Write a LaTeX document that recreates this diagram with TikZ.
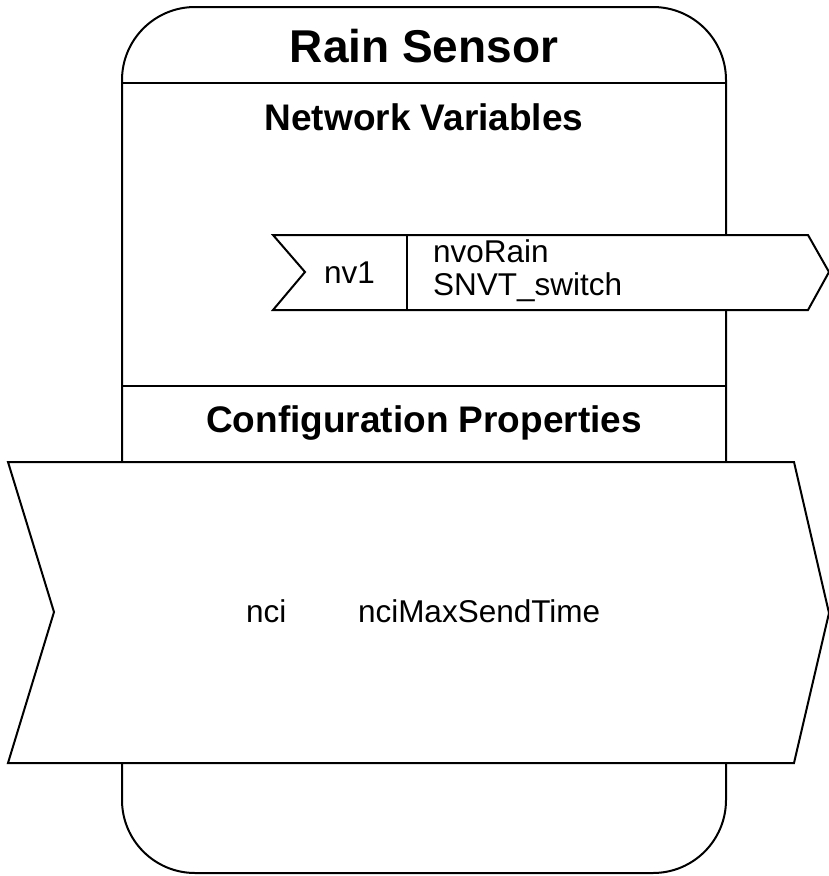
\documentclass[tikz,border=0pt]{standalone}
\usepackage{fontspec}
\setmainfont{Liberation Sans}
\begin{document}
\begin{tikzpicture}[x=1pt,y=-1pt,line width=2pt,
  every node/.style={inner sep=0pt},
  blocktitle/.style={font=\fontsize{46}{55}\selectfont\bfseries,anchor=base},
  section/.style={font=\fontsize{37}{44}\selectfont\bfseries,anchor=base},
  txt/.style={font=\fontsize{31.5}{38}\selectfont,anchor=base west}
]

\tikzstyle{port}=[draw,fill=white,line join=miter]

\useasboundingbox (0,0) rectangle (829,876);

% block outline
\draw[rounded corners=73] (122,7) rectangle (726,873);
\draw (122,83) -- (726,83);
\draw (122,386) -- (726,386);

% network variable
\draw[port] (273,235) -- (808,235) -- (829,272) -- (808,310) -- (273,310) -- (305,272) -- cycle;
\draw (407,235) -- (407,310);

% configuration property
\draw[port] (8,462) -- (794,462) -- (829,613) -- (794,763) -- (8,763) -- (54,612) -- cycle;

\node[blocktitle] (name) at (424,62) {Rain Sensor};
\node[section] (nvhead) at (424,130) {Network Variables};
\node[section] (cphead) at (424,432) {Configuration Properties};

\node[txt] (nvidx) at (323,283) {nv1};
\node[txt] (nvname) at (432,262) {nvoRain};
\node[txt] (nvtype) at (432,295) {SNVT\_switch};

\node[txt] (cpidx) at (245,622) {nci};
\node[txt] (cpname) at (357,622) {nciMaxSendTime};
\end{tikzpicture}
\end{document}
